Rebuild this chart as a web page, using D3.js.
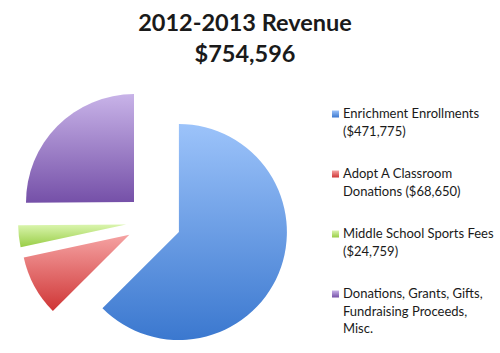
<!DOCTYPE html>
<html lang="en">
<head>
    <meta charset="UTF-8">
    <title>2012-2013 Revenue</title>
    <style>
        body { margin: 0; background: #fff; }
        text { font-family: Lato, "Open Sans", sans-serif; fill: #1a1a1a; }
    </style>
</head>
<body>
<script src="https://d3js.org/d3.v7.min.js"></script>
<script>
    // values
    const categories = ["Enrichment Enrollments", "Adopt A Classroom", "Middle School Sports Fees", "Donations, Grants, Gifts"];
    const values = [471775, 68650, 24759, 189412];
    const legendLines = [
        ["Enrichment Enrollments", "($471,775)"],
        ["Adopt A Classroom", "Donations ($68,650)"],
        ["Middle School Sports Fees", "($24,759)"],
        ["Donations, Grants, Gifts,", "Fundraising Proceeds,", "Misc."]
    ];
    const titleLines = ["2012-2013 Revenue", "$754,596"];

    // light / dark gradient stops per slice
    const colorTop = ["#9cc3fa", "#f5a3a3", "#daf5ae", "#c8b3e8"];
    const colorBottom = ["#3b78cf", "#cf3636", "#98cd45", "#7550a8"];

    const width = 500, height = 353;
    const cx = 153.5, cy = 221.5, radius = 108, explode = 27.5;

    const svg = d3.select("body").append("svg")
        .attr("width", width)
        .attr("height", height);

    const defs = svg.append("defs");
    categories.forEach((c, i) => {
        const g = defs.append("linearGradient")
            .attr("id", "grad" + i)
            .attr("x1", 0).attr("y1", 0).attr("x2", 0).attr("y2", 1);
        g.append("stop").attr("offset", "0%").attr("stop-color", colorTop[i]);
        g.append("stop").attr("offset", "100%").attr("stop-color", colorBottom[i]);
    });

    const pie = d3.pie().sort(null).value(d => d);
    const arc = d3.arc().innerRadius(0).outerRadius(radius);

    const chart = svg.append("g")
        .attr("transform", `translate(${cx},${cy})`);

    chart.selectAll("path")
        .data(pie(values))
        .enter()
        .append("path")
        .attr("transform", d => {
            const mid = (d.startAngle + d.endAngle) / 2;
            return `translate(${Math.sin(mid) * explode},${-Math.cos(mid) * explode})`;
        })
        .attr("d", arc)
        .attr("fill", (d, i) => `url(#grad${i})`);

    // title
    svg.selectAll(".title")
        .data(titleLines)
        .enter()
        .append("text")
        .attr("class", "title")
        .attr("x", 245)
        .attr("y", (d, i) => 31 + i * 31)
        .attr("text-anchor", "middle")
        .attr("font-size", 23.5)
        .attr("font-weight", "bold")
        .text(d => d);

    // legend
    const legend = svg.selectAll(".legend")
        .data(legendLines)
        .enter()
        .append("g")
        .attr("class", "legend")
        .attr("transform", (d, i) => `translate(332,${118 + i * 60})`);

    legend.append("rect")
        .attr("x", 0)
        .attr("y", -7.5)
        .attr("width", 7)
        .attr("height", 7)
        .attr("fill", (d, i) => `url(#grad${i})`);

    legend.each(function (lines) {
        const t = d3.select(this).append("text")
            .attr("x", 11)
            .attr("y", 0)
            .attr("font-size", 13);
        lines.forEach((l, j) => {
            t.append("tspan")
                .attr("x", 11)
                .attr("dy", j === 0 ? 0 : 17.5)
                .text(l);
        });
    });
</script>
</body>
</html>
